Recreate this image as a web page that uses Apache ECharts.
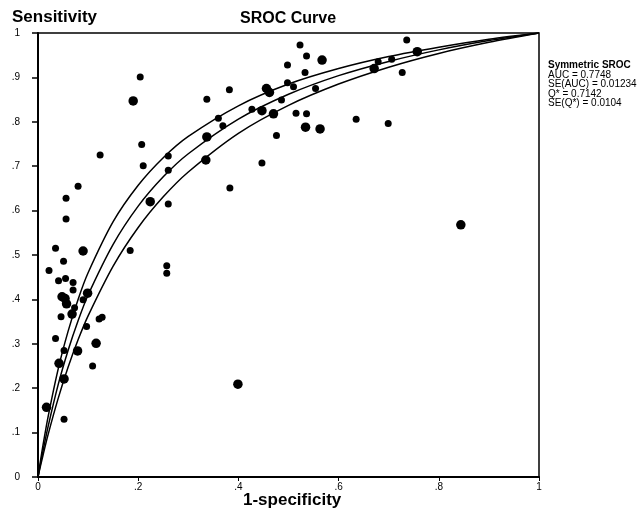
<!DOCTYPE html>
<html>
<head>
<meta charset="utf-8">
<script src="https://cdn.jsdelivr.net/npm/echarts@6/dist/echarts.min.js"></script>
<style>
  html, body { margin: 0; padding: 0; background: #fff; }
  #chart { width: 639px; height: 511px; }
</style>
</head>
<body>
<div id="chart"></div>
<script>
// #region Data
// study points (1-specificity, sensitivity); weight 1 = larger study
const studyFpr = [
  0.736, 0.757, 0.706, 0.679, 0.671, 0.727, 0.536, 0.567, 0.533, 0.554,
  0.536, 0.534, 0.563, 0.635, 0.699, 0.523, 0.498, 0.498, 0.510, 0.456,
  0.462, 0.382, 0.337, 0.486, 0.427, 0.447, 0.470, 0.515, 0.360, 0.369,
  0.337, 0.476, 0.335, 0.447, 0.207, 0.260, 0.210, 0.260, 0.383, 0.224,
  0.260, 0.184, 0.257, 0.257, 0.124, 0.190, 0.204, 0.080, 0.056, 0.056,
  0.035, 0.090, 0.051, 0.022, 0.041, 0.055, 0.070, 0.070, 0.099, 0.048,
  0.054, 0.090, 0.057, 0.073, 0.068, 0.046, 0.122, 0.128, 0.097, 0.035,
  0.052, 0.079, 0.116, 0.042, 0.109, 0.052, 0.017, 0.052, 0.399, 0.844
];
const studySens = [
  0.984, 0.958, 0.941, 0.935, 0.920, 0.911, 0.948, 0.939, 0.911, 0.875,
  0.818, 0.788, 0.784, 0.806, 0.796, 0.973, 0.928, 0.888, 0.879, 0.875,
  0.866, 0.872, 0.851, 0.849, 0.828, 0.825, 0.818, 0.819, 0.808, 0.791,
  0.766, 0.769, 0.714, 0.707, 0.749, 0.723, 0.701, 0.691, 0.651, 0.620,
  0.615, 0.510, 0.476, 0.459, 0.725, 0.847, 0.901, 0.655, 0.628, 0.581,
  0.515, 0.509, 0.486, 0.465, 0.442, 0.447, 0.438, 0.421, 0.414, 0.406,
  0.402, 0.399, 0.390, 0.381, 0.367, 0.361, 0.356, 0.360, 0.339, 0.312,
  0.285, 0.284, 0.301, 0.256, 0.250, 0.221, 0.157, 0.130, 0.209, 0.568
];
const studyWeight = [
  0, 1, 0, 0, 1, 0, 0, 1, 0, 0,
  0, 1, 1, 0, 0, 0, 0, 0, 0, 1,
  1, 0, 0, 0, 0, 1, 1, 0, 0, 0,
  1, 0, 1, 0, 0, 0, 0, 0, 0, 1,
  0, 0, 0, 0, 0, 1, 0, 0, 0, 0,
  0, 1, 0, 0, 0, 0, 0, 0, 1, 1,
  1, 0, 1, 0, 1, 0, 0, 0, 0, 0,
  0, 1, 1, 1, 0, 1, 1, 0, 1, 1
];

// SROC curve and its two bounds, read at these 1-specificity values
const curveFpr   = [0, 0.005, 0.01, 0.02, 0.04, 0.06, 0.08, 0.1, 0.15, 0.2, 0.25, 0.3, 0.4, 0.5, 0.6, 0.7, 0.8, 0.9, 1];
const curveUpper = [0, 0.037, 0.072, 0.135, 0.242, 0.328, 0.400, 0.460, 0.575, 0.657, 0.719, 0.767, 0.836, 0.885, 0.920, 0.947, 0.968, 0.986, 1];
const curveMid   = [0, 0.030, 0.059, 0.113, 0.207, 0.285, 0.352, 0.410, 0.524, 0.610, 0.676, 0.728, 0.806, 0.862, 0.904, 0.936, 0.962, 0.983, 1];
const curveLower = [0, 0.025, 0.049, 0.095, 0.176, 0.247, 0.309, 0.363, 0.475, 0.562, 0.631, 0.687, 0.774, 0.837, 0.885, 0.923, 0.954, 0.979, 1];

const xTickLabels = ['0', '.2', '.4', '.6', '.8', '1'];
const yTickLabels = ['0', '.1', '.2', '.3', '.4', '.5', '.6', '.7', '.8', '.9', '1'];

const statLines = ['AUC = 0.7748', 'SE(AUC) = 0.01234', 'Q* = 0.7142', 'SE(Q*) = 0.0104'];
// #endregion

const FONT = '"Liberation Sans", Arial, sans-serif';

const points = studyFpr.map((x, i) => [x, studySens[i], studyWeight[i]]);
const zip = (ys) => curveFpr.map((x, i) => [x, ys[i]]);

const curveSeries = [curveUpper, curveMid, curveLower].map(ys => ({
  type: 'line',
  data: zip(ys),
  smooth: 0.3,
  symbol: 'none',
  lineStyle: { color: '#000', width: 1.5 },
  z: 3
}));

const chart = echarts.init(document.getElementById('chart'), null, { renderer: 'canvas' });

chart.setOption({
  animation: false,
  backgroundColor: '#fff',
  grid: {
    left: 38, right: 100, top: 33, bottom: 34,
    show: true,
    borderColor: '#000',
    borderWidth: 1.5
  },
  xAxis: {
    type: 'value',
    min: 0, max: 1, interval: 0.2,
    axisLine: { show: true, lineStyle: { color: '#000', width: 2 } },
    axisTick: { show: true, length: 4, lineStyle: { color: '#000', width: 1 } },
    axisLabel: {
      margin: 5, color: '#000', fontSize: 10, fontFamily: FONT,
      formatter: (v) => xTickLabels[Math.round(v / 0.2)]
    },
    splitLine: { show: false }
  },
  yAxis: {
    type: 'value',
    min: 0, max: 1, interval: 0.1,
    axisLine: { show: true, lineStyle: { color: '#000', width: 2 } },
    axisTick: { show: true, length: 6, lineStyle: { color: '#000', width: 1.5 } },
    axisLabel: {
      margin: 18, color: '#000', fontSize: 10, fontFamily: FONT,
      formatter: (v) => yTickLabels[Math.round(v / 0.1)]
    },
    splitLine: { show: false }
  },
  series: [
    ...curveSeries,
    {
      type: 'scatter',
      data: points,
      symbol: 'circle',
      symbolSize: (d) => d[2] ? 9.5 : 7,
      itemStyle: { color: '#000', opacity: 1 },
      z: 4
    }
  ],
  graphic: [
    {
      type: 'text', left: 12, top: 9,
      style: { text: 'Sensitivity', font: `bold 17px ${FONT}`, fill: '#000' }
    },
    {
      type: 'text', left: 240, top: 11,
      style: { text: 'SROC Curve', font: `bold 16px ${FONT}`, fill: '#000' }
    },
    {
      type: 'text', left: 243, top: 492,
      style: { text: '1-specificity', font: `bold 17px ${FONT}`, fill: '#000' }
    },
    {
      type: 'text', left: 548, top: 60,
      style: { text: 'Symmetric SROC', font: `bold 10px ${FONT}`, fill: '#000' }
    },
    ...statLines.map((t, i) => ({
      type: 'text', left: 548, top: 70 + i * 9.4,
      style: { text: t, font: `10px ${FONT}`, fill: '#000' }
    }))
  ]
});
</script>
</body>
</html>
